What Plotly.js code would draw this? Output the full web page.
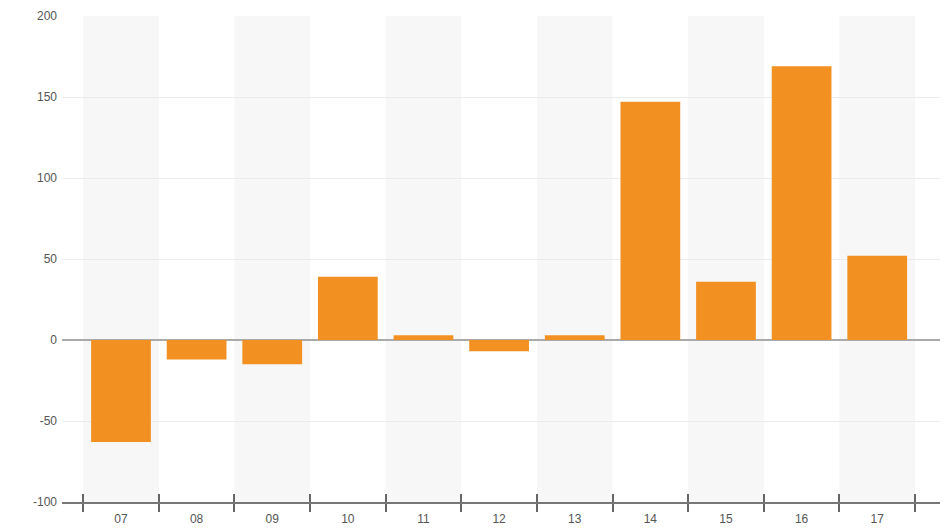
<!DOCTYPE html>
<html>
<head>
<meta charset="utf-8">
<script src="https://cdn.plot.ly/plotly-3.0.1.min.js"></script>
<style>html,body{margin:0;padding:0;background:#fff;}#chart{width:947px;height:531px;}</style>
</head>
<body>
<div id="chart"></div>
<script>
const categories = ["07","08","09","10","11","12","13","14","15","16","17"];
const values = [-63, -12, -15, 39, 3, -7, 3, 147, 36, 169, 52];
const yTicks = [-100, -50, 0, 50, 100, 150, 200];

const bandShapes = categories.map((c, i) => i % 2 === 0 ? {
  type: 'rect', xref: 'x', yref: 'paper',
  x0: i - 0.5, x1: i + 0.5, y0: 0, y1: 1,
  fillcolor: '#f7f7f7', line: {width: 0}, layer: 'below'
} : null).filter(Boolean);

const trace = {
  type: 'bar',
  x: categories,
  y: values,
  width: 0.79,
  marker: {color: '#F39022', line: {width: 0}},
  hoverinfo: 'x+y'
};

const layout = {
  width: 947, height: 531,
  margin: {l: 62, r: 7, t: 16, b: 29},
  paper_bgcolor: '#ffffff',
  plot_bgcolor: '#ffffff',
  showlegend: false,
  font: {family: 'Liberation Sans, Arial, sans-serif', size: 12, color: '#555'},
  xaxis: {
    type: 'category',
    range: [-0.78, 10.83],
    tickson: 'boundaries',
    ticks: 'outside', ticklen: 8, tickwidth: 2, tickcolor: '#666',
    showline: true, linecolor: '#777', linewidth: 2,
    showgrid: false, zeroline: false,
    ticklabelstandoff: 5,
    tickfont: {size: 12, color: '#555'},
    fixedrange: true
  },
  xaxis2: {
    type: 'category', overlaying: 'x', matches: 'x', anchor: 'y',
    tickson: 'boundaries',
    ticks: 'inside', ticklen: 8, tickwidth: 2, tickcolor: '#666',
    showticklabels: false, showline: false, showgrid: false, zeroline: false
  },
  yaxis: {
    range: [-100, 200],
    tickvals: yTicks,
    ticktext: yTicks.map(String),
    showgrid: true, gridcolor: '#ebebeb', gridwidth: 1,
    zeroline: true, zerolinecolor: '#aaaaaa', zerolinewidth: 2,
    showline: false, ticks: '',
    ticklabelstandoff: 4,
    tickfont: {size: 12, color: '#555'},
    fixedrange: true
  },
  shapes: bandShapes,
  bargap: 0.21
};

const ghost = {
  type: 'bar', x: categories, y: categories.map(() => null),
  xaxis: 'x2', yaxis: 'y', hoverinfo: 'skip', showlegend: false
};

Plotly.newPlot('chart', [trace, ghost], layout, {displayModeBar: false, staticPlot: true});
</script>
</body>
</html>
